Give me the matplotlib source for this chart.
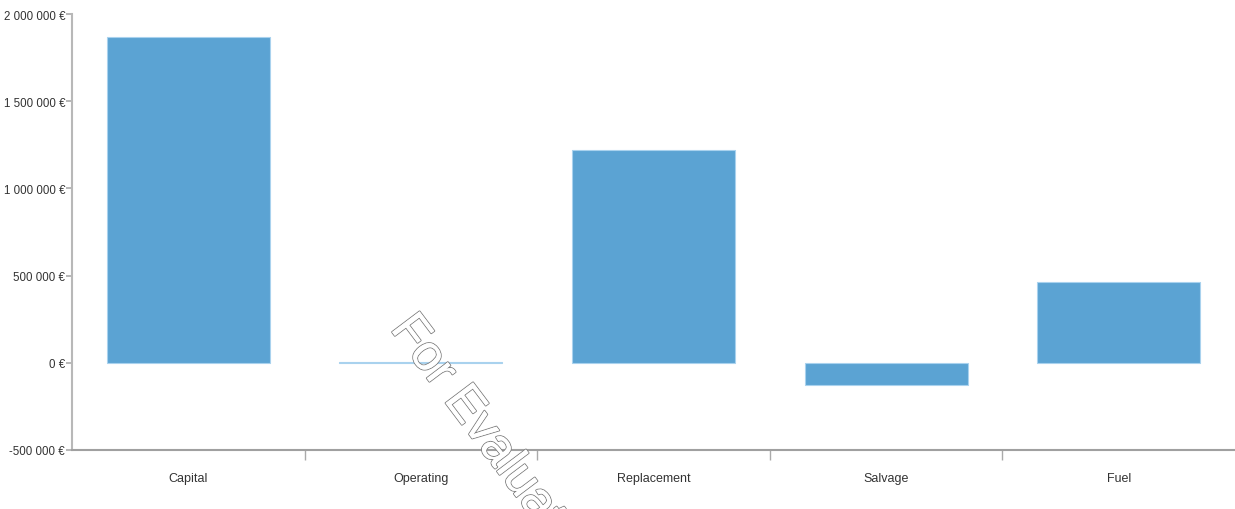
import numpy as np
import matplotlib.pyplot as plt
import matplotlib.patheffects as pe
from matplotlib.ticker import FuncFormatter, FixedLocator

categories = ["Capital", "Operating", "Replacement", "Salvage", "Fuel"]
costs = [1870000, 4000, 1220000, -125000, 462000]
y_ticks = [-500000, 0, 500000, 1000000, 1500000, 2000000]

plt.rcParams['font.family'] = ['Liberation Sans', 'DejaVu Sans']

fig = plt.figure(figsize=(12.35, 5.10), dpi=100)
ax = fig.add_axes([72 / 1235, 59 / 510, 1 - 72 / 1235, (451 - 15) / 510])

x = np.arange(len(categories))
ax.bar(x, costs, width=0.7, color="#5ba3d3", edgecolor="#a9d2ee", linewidth=0.8)

ax.set_xlim(-0.5, len(categories) - 0.5)
ax.set_ylim(-500000, 2000000)
ax.set_yticks(y_ticks)
ax.yaxis.set_major_formatter(FuncFormatter(
    lambda v, _: f"{int(v):,} €".replace(",", " ")))

ax.set_xticks(x)
ax.set_xticklabels(categories)
ax.xaxis.set_minor_locator(FixedLocator(x[:-1] + 0.5))
ax.tick_params(axis="x", which="major", length=0, pad=16, labelsize=9,
               labelcolor="#333333")
ax.tick_params(axis="x", which="minor", length=7, color="#aaaaaa", width=1)
ax.tick_params(axis="y", length=4, color="#aaaaaa", width=1.2, pad=1,
               labelsize=8.3, labelcolor="#333333")

for side in ["top", "right"]:
    ax.spines[side].set_visible(False)
ax.spines["left"].set_color("#b8b8b8")
ax.spines["left"].set_linewidth(1.5)
ax.spines["bottom"].set_color("#a0a0a0")
ax.spines["bottom"].set_linewidth(1.5)

# watermark from the charting tool
fig.text(400 / 1235, 1 - 322 / 510, "For Evaluation Only", rotation=-53,
         rotation_mode="anchor", ha="left", va="center", fontsize=36,
         family="Liberation Sans", color="white",
         path_effects=[pe.withStroke(linewidth=1.4, foreground="#808080"),
                       pe.Normal()])

fig.savefig("out.png", dpi=100)
